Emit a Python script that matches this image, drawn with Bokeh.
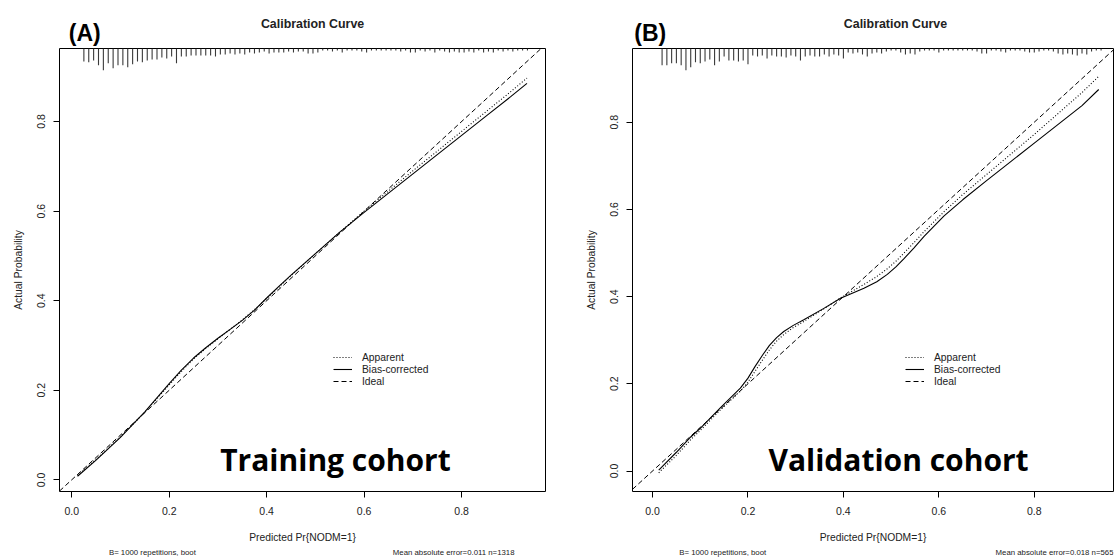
import numpy as np
from bokeh.plotting import figure
from bokeh.layouts import row, column
from bokeh.models import Range1d, FixedTicker, Label, Legend, LegendItem, PrintfTickFormatter
from bokeh.embed import file_html
from bokeh.resources import INLINE

FONT = "Liberation Sans"

# ---------------- data: Training cohort (A) ----------------
a_x = [0.012, 0.05, 0.10, 0.15, 0.20, 0.225, 0.25, 0.275, 0.30, 0.325, 0.35, 0.375, 0.40,
       0.425, 0.45, 0.50, 0.55, 0.60, 0.65, 0.70, 0.75, 0.80, 0.85, 0.90, 0.934]
a_bias_corrected = [0.008, 0.044, 0.095, 0.152, 0.215, 0.245, 0.272, 0.295, 0.316, 0.336, 0.356,
                    0.379, 0.406, 0.432, 0.457, 0.505, 0.553, 0.597, 0.640, 0.683, 0.726, 0.769,
                    0.812, 0.855, 0.885]
a_apparent = [0.010, 0.046, 0.096, 0.151, 0.212, 0.242, 0.270, 0.293, 0.315, 0.336, 0.357,
              0.380, 0.405, 0.430, 0.456, 0.505, 0.553, 0.600, 0.645, 0.690, 0.734, 0.778,
              0.822, 0.866, 0.897]
a_rug_start = 0.025
a_rug_freq = [13, 14, 12, 17, 22, 15, 20, 17, 17, 19, 16, 13, 14, 12, 11, 11, 9, 10, 8, 15,
              8, 8, 7, 7, 7, 7, 7, 8, 6, 6, 5, 6, 5, 6, 4, 5, 4, 3, 5, 4, 4, 4, 3, 4, 3, 3,
              5, 5, 4, 2, 2, 3, 2, 4, 2, 2, 2, 3, 4, 2, 2, 2, 2, 2, 2, 3, 2, 4, 4, 2, 3, 2,
              4, 2, 3, 4, 3, 4, 4, 3, 4, 2, 4, 3, 4, 2, 3, 2, 3, 2, 2, 2]

# ---------------- data: Validation cohort (B) ----------------
b_x = [0.013, 0.05, 0.08, 0.10, 0.143, 0.184, 0.20, 0.215, 0.23, 0.245, 0.26, 0.275, 0.295,
       0.317, 0.359, 0.394, 0.443, 0.47, 0.492, 0.51, 0.527, 0.548, 0.569, 0.611, 0.65, 0.70,
       0.75, 0.80, 0.85, 0.90, 0.935]
b_bias_corrected = [0.002, 0.043, 0.078, 0.098, 0.146, 0.190, 0.213, 0.240, 0.265, 0.288, 0.306,
                    0.320, 0.334, 0.347, 0.373, 0.396, 0.419, 0.434, 0.451, 0.468, 0.487, 0.512,
                    0.538, 0.585, 0.622, 0.666, 0.709, 0.752, 0.795, 0.838, 0.875]
b_apparent = [-0.004, 0.036, 0.072, 0.093, 0.141, 0.183, 0.204, 0.229, 0.254, 0.278, 0.298,
              0.313, 0.329, 0.343, 0.372, 0.397, 0.428, 0.446, 0.464, 0.481, 0.500, 0.524,
              0.549, 0.595, 0.634, 0.680, 0.726, 0.772, 0.820, 0.868, 0.905]
b_rug_start = 0.02
b_rug_freq = [17, 17, 15, 15, 17, 22, 19, 14, 15, 13, 11, 17, 13, 8, 12, 12, 13, 12, 16, 7,
              8, 7, 10, 7, 8, 8, 9, 7, 8, 12, 8, 7, 8, 8, 6, 8, 6, 7, 10, 4, 5, 4, 6, 8, 5, 4,
              5, 3, 2, 2, 4, 6, 5, 6, 3, 2, 2, 2, 4, 2, 2, 2, 2, 2, 2, 2, 3, 5, 5, 2, 2, 3,
              4, 2, 2, 2, 3, 4, 4, 3, 2, 2, 3, 5, 6, 5, 6, 7, 5, 6, 3, 2, 2]

ticks = [0.0, 0.2, 0.4, 0.6, 0.8]
legend_labels = ["Apparent", "Bias-corrected", "Ideal"]

HEAD_H = 47
FOOT_H = 12
MAIN_H = 557 - HEAD_H - FOOT_H
TOP_B = 1
BOT_B = 50
FRAME_H = MAIN_H - TOP_B - BOT_B


def strip(width, height):
    s = figure(width=width, height=height, output_backend="svg", toolbar_location=None,
               x_range=Range1d(0, width), y_range=Range1d(height, 0),
               x_axis_type=None, y_axis_type=None, min_border=0)
    s.grid.visible = False
    s.outline_line_color = None
    s.background_fill_color = "white"
    s.border_fill_color = "white"
    return s


def panel(width, bl, br, xr, yr, letter, letter_x, cohort, cohort_x, mae_text, mae_right,
          xs, app, bc, rug_start, rug_freq, legend_x):
    frame_w = width - bl - br
    p = figure(width=width, height=MAIN_H, output_backend="svg", toolbar_location=None,
               x_range=Range1d(*xr), y_range=Range1d(*yr),
               min_border_left=bl, min_border_right=br, min_border_top=TOP_B,
               min_border_bottom=BOT_B)
    p.grid.visible = False
    p.outline_line_color = "black"
    p.outline_line_alpha = 1
    p.outline_line_width = 1
    p.background_fill_color = "white"
    p.border_fill_color = "white"

    for ax in (p.xaxis[0], p.yaxis[0]):
        ax.ticker = FixedTicker(ticks=ticks)
        ax.formatter = PrintfTickFormatter(format="%.1f")
        ax.axis_line_color = None
        ax.major_tick_out = 6
        ax.major_tick_in = 0
        ax.major_tick_line_color = "black"
        ax.minor_tick_line_color = None
        ax.major_label_text_font = FONT
        ax.major_label_text_font_size = "10.5px"
        ax.major_label_text_color = "#222222"
        ax.axis_label_text_font = FONT
        ax.axis_label_text_font_size = "10.3px"
        ax.axis_label_text_font_style = "normal"
        ax.axis_label_text_color = "#222222"
    p.xaxis.axis_label = "Predicted Pr{NODM=1}"
    p.yaxis.axis_label = "Actual Probability"
    p.xaxis.major_label_standoff = 9
    p.xaxis.axis_label_standoff = 14
    p.yaxis.major_label_orientation = "parallel"
    p.yaxis.major_label_standoff = 8
    p.yaxis.axis_label_standoff = 11

    # rug of predicted probabilities hanging from the top
    upp = (yr[1] - yr[0]) / FRAME_H
    rx = [rug_start + 0.01 * i for i in range(len(rug_freq))]
    p.segment(x0=rx, y0=[yr[1]] * len(rx), x1=rx, y1=[yr[1] - f * upp for f in rug_freq],
              line_color="#3a3a3a", line_width=1.1)

    r_ideal = p.line([xr[0], xr[1]], [xr[0], xr[1]], line_color="black", line_width=1,
                     line_dash="5 3")
    r_app = p.line(xs, app, line_color="black", line_width=1.1, line_dash="1 2")
    r_bc = p.line(xs, bc, line_color="black", line_width=1.1)

    leg = Legend(items=[LegendItem(label=legend_labels[0], renderers=[r_app]),
                        LegendItem(label=legend_labels[1], renderers=[r_bc]),
                        LegendItem(label=legend_labels[2], renderers=[r_ideal])],
                 location=(legend_x, 104), padding=0, margin=0, spacing=0,
                 glyph_width=19, glyph_height=12, label_height=12, label_standoff=10,
                 label_text_font=FONT, label_text_font_size="10.3px",
                 label_text_color="#222222", border_line_color=None,
                 background_fill_alpha=0)
    p.add_layout(leg)

    p.add_layout(Label(x=cohort_x, y=32, x_units="screen", y_units="screen",
                       text=cohort, text_align="center", text_baseline="alphabetic",
                       text_font="Open Sans", text_font_style="bold", text_font_size="30px",
                       text_color="black"))

    head = strip(width, HEAD_H)
    head.add_layout(Label(x=bl + frame_w / 2, y=23, text="Calibration Curve",
                          text_align="center", text_baseline="middle",
                          text_font=FONT, text_font_style="bold", text_font_size="12.4px",
                          text_color="#222222"))
    head.add_layout(Label(x=letter_x, y=32, text=letter, text_align="left",
                          text_baseline="middle", text_font=FONT, text_font_style="bold",
                          text_font_size="23px", text_color="black"))

    foot = strip(width, FOOT_H)
    foot.add_layout(Label(x=bl, y=7, text="B= 1000 repetitions, boot", text_align="left",
                          text_baseline="middle", text_font=FONT, text_font_size="7.8px",
                          text_color="#222222"))
    foot.add_layout(Label(x=mae_right, y=7, text=mae_text, text_align="right",
                          text_baseline="middle", text_font=FONT, text_font_size="7.8px",
                          text_color="#222222"))
    return column(head, p, foot, spacing=0)


pa = panel(580, 59, 35, (-0.025, 0.972), (-0.026, 0.963), "(A)", 11, "Training cohort", 276,
           "Mean absolute error=0.011 n=1318", 543, a_x, a_apparent, a_bias_corrected,
           a_rug_start, a_rug_freq, 274)
pb = panel(535, 52, 2, (-0.042, 0.966), (-0.047, 0.969), "(B)", 2, "Validation cohort", 266,
           "Mean absolute error=0.018 n=565", 535, b_x, b_apparent, b_bias_corrected,
           b_rug_start, b_rug_freq, 273)

layout = row(pa, pb, spacing=0)
open("out.html", "w").write(file_html(layout, INLINE))
